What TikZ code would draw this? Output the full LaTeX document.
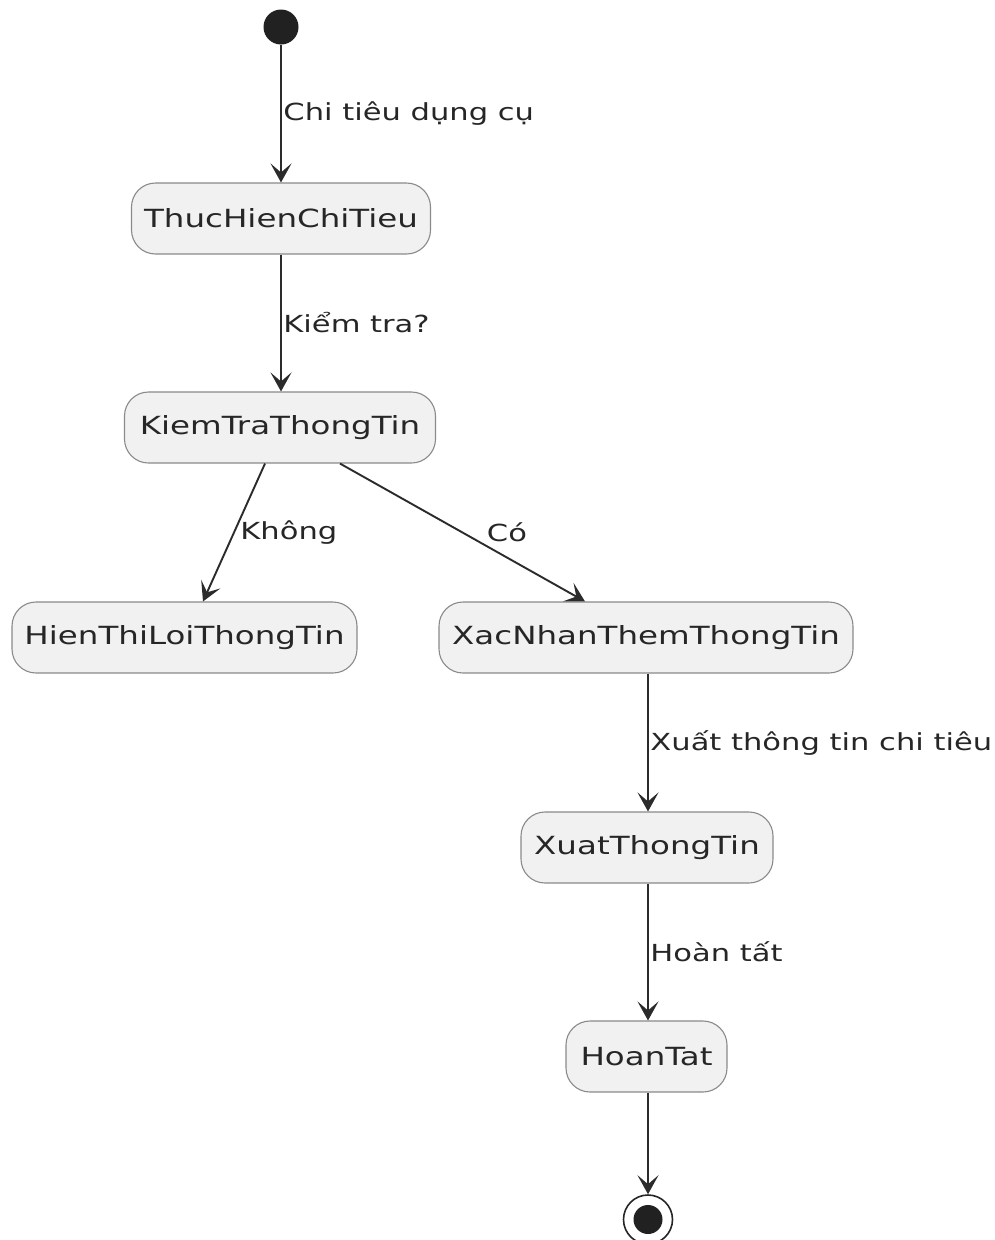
\documentclass[tikz,border=0pt]{standalone}
\usepackage{fontspec}
\setmainfont{DejaVu Sans}[FakeStretch=1.3]
\usetikzlibrary{arrows.meta,calc}
\definecolor{statefill}{HTML}{F1F1F1}
\definecolor{stateedge}{HTML}{8A8A8A}
\definecolor{flow}{HTML}{2B2B2B}
\begin{document}
\begin{tikzpicture}[x=1pt,y=-1pt,
  statebox/.style={draw=stateedge, line width=1.1pt, fill=statefill, rounded corners=24pt,
    minimum height=71pt, inner sep=0pt, text=black!85,
    font=\fontsize{25}{30}\selectfont},
  flowline/.style={draw=flow, line width=1.9pt,
    -{Stealth[length=19pt,width=21pt,inset=9pt]}},
  flowlabel/.style={font=\fontsize{23.5}{28}\selectfont, text=black!85, inner sep=1.5pt}]
\useasboundingbox (0,0) rectangle (995,1240);
\fill[white] (0,0) rectangle (995,1240);

% initial and final pseudo-states
\node[circle, fill=black!87, minimum size=35pt, inner sep=0pt] (start) at (281,27) {};
\node[circle, draw=black!85, line width=1.6pt, fill=white, minimum size=49pt, inner sep=0pt] (stop) at (648,1219.5) {};
\node[circle, fill=black!87, minimum size=29pt, inner sep=0pt] (stopdot) at (648,1219.5) {};

% states
\node[statebox, minimum width=299pt] (thuc) at (281,218.5) {ThucHienChiTieu};
\node[statebox, minimum width=311pt] (kiem) at (280,427.5) {KiemTraThongTin};
\node[statebox, minimum width=345pt] (hien) at (184.5,637.5) {HienThiLoiThongTin};
\node[statebox, minimum width=414pt] (xacn) at (646,637.5) {XacNhanThemThongTin};
\node[statebox, minimum width=252pt] (xuat) at (647,847.5) {XuatThongTin};
\node[statebox, minimum width=161pt] (hoan) at (646.5,1056.5) {HoanTat};

% anchor points of the vertical transitions
\coordinate (t1) at (start.south);
\coordinate (t2) at (thuc.south);
\coordinate (t3) at ($(xacn.south)+(2,0)$);
\coordinate (t4) at ($(hoan.south)+(1.5,0)$);

% transitions
\draw[flowline] (t1) -- node[flowlabel, midway, right] {Chi tiêu dụng cụ} (t1 |- thuc.north);
\draw[flowline] (t2) -- node[flowlabel, midway, right] {Kiểm tra?} (t2 |- kiem.north);
\draw[flowline] ($(kiem.south)+(-15,0)$) -- node[flowlabel, midway, right, xshift=4pt] {Không} ($(hien.north)+(18.5,0)$);
\draw[flowline] ($(kiem.south)+(60,0)$) -- node[flowlabel, midway, right, xshift=22pt] {Có} ($(xacn.north)+(-61,0)$);
\draw[flowline] (t3) -- node[flowlabel, midway, right] {Xuất thông tin chi tiêu} (t3 |- xuat.north);
\draw[flowline] (t3 |- xuat.south) -- node[flowlabel, midway, right] {Hoàn tất} (t3 |- hoan.north);
\draw[flowline] (t4) -- (t4 |- stop.north);
\end{tikzpicture}
\end{document}
